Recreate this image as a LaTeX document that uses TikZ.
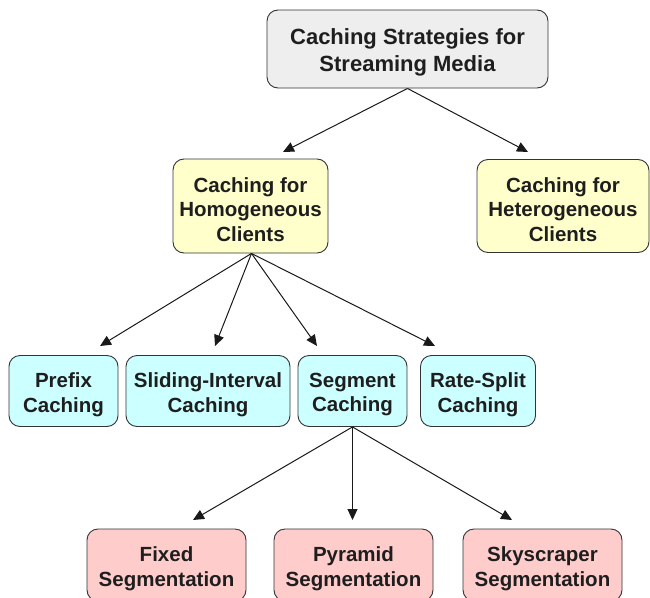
\documentclass[tikz,border=0pt]{standalone}
\usepackage{fontspec}
\setmainfont{Liberation Sans}
\usetikzlibrary{arrows.meta}
\definecolor{rootfill}{HTML}{EEEEEE}
\definecolor{yelfill}{HTML}{FFFFCC}
\definecolor{cyanfill}{HTML}{CCFFFF}
\definecolor{pinkfill}{HTML}{FFCCCC}
\definecolor{edge}{HTML}{333333}
\definecolor{txt}{HTML}{1E1E1E}
\tikzset{
  box/.style={draw=edge, line width=0.9pt, rounded corners=11pt, inner sep=0pt},
  lbl/.style={align=center, text=txt, inner sep=0pt, yshift=-3.5pt,
    font=\fontsize{20.5}{24.5}\selectfont\bfseries},
  biglbl/.style={lbl, font=\fontsize{22}{26.5}\selectfont\bfseries},
  conn/.style={draw=black!90, line width=1pt, -{Triangle[length=11pt,width=10pt]}},
}
\begin{document}
\begin{tikzpicture}[x=1pt,y=-1pt]
\useasboundingbox (0,0) rectangle (650,597);
\clip (0,0) rectangle (650,597);
\node[box, fill=rootfill, minimum width=281pt, minimum height=78pt,
  label={[biglbl]center:{Caching Strategies for\\Streaming Media}}] (root) at (407.5,49) {};
\node[box, fill=yelfill, minimum width=155pt, minimum height=94pt,
  label={[lbl]center:{Caching for\\Homogeneous\\Clients}}] (homo) at (250.5,206) {};
\node[box, fill=yelfill, minimum width=172pt, minimum height=93pt,
  label={[lbl]center:{Caching for\\Heterogeneous\\Clients}}] (hetero) at (563,206) {};
\node[box, fill=cyanfill, minimum width=109pt, minimum height=71pt,
  label={[lbl]center:{Prefix\\Caching}}] (prefix) at (63.5,391) {};
\node[box, fill=cyanfill, minimum width=164pt, minimum height=71pt,
  label={[lbl]center:{Sliding-Interval\\Caching}}] (sliding) at (208,391) {};
\node[box, fill=cyanfill, minimum width=109pt, minimum height=71pt,
  label={[lbl]center:{Segment\\Caching}}] (segment) at (352.5,391) {};
\node[box, fill=cyanfill, minimum width=115pt, minimum height=71pt,
  label={[lbl]center:{Rate-Split\\Caching}}] (rate) at (478,391) {};
\node[box, fill=pinkfill, minimum width=159pt, minimum height=72pt,
  label={[lbl]center:{Fixed\\Segmentation}}] (fixed) at (166.5,565) {};
\node[box, fill=pinkfill, minimum width=159pt, minimum height=72pt,
  label={[lbl]center:{Pyramid\\Segmentation}}] (pyramid) at (353.5,565) {};
\node[box, fill=pinkfill, minimum width=159pt, minimum height=72pt,
  label={[lbl]center:{Skyscraper\\Segmentation}}] (sky) at (542.5,565) {};
\coordinate (t1) at (283,152);
\coordinate (t2) at (528,152);
\coordinate (t3) at (100,346);
\coordinate (t4) at (215,346);
\coordinate (t5) at (317,346);
\coordinate (t6) at (435,346);
\coordinate (t7) at (193,520);
\coordinate (t8) at (352.5,520);
\coordinate (t9) at (512,520);
\draw[conn] (root.south) -- (t1);
\draw[conn] (root.south) -- (t2);
\draw[conn] ([xshift=1pt]homo.south) -- (t3);
\draw[conn] ([xshift=1pt]homo.south) -- (t4);
\draw[conn] ([xshift=1pt]homo.south) -- (t5);
\draw[conn] ([xshift=1pt]homo.south) -- (t6);
\draw[conn] (segment.south) -- (t7);
\draw[conn] (segment.south) -- (t8);
\draw[conn] (segment.south) -- (t9);
\end{tikzpicture}
\end{document}
